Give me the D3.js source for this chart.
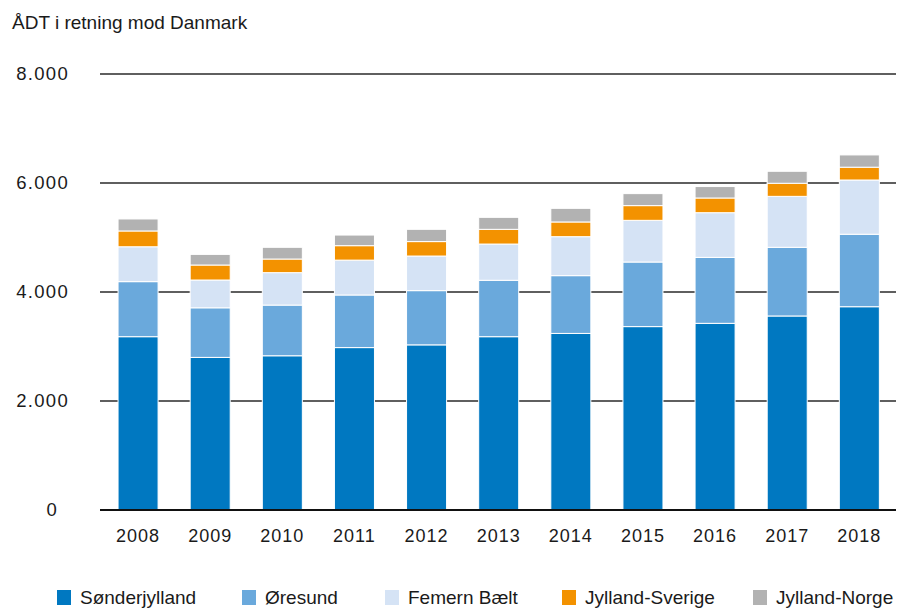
<!DOCTYPE html>
<html lang="da">
<head>
<meta charset="utf-8">
<title>ÅDT i retning mod Danmark</title>
<script src="https://cdn.jsdelivr.net/npm/d3@7/dist/d3.min.js"></script>
<style>
  html, body { margin: 0; padding: 0; background: #fff; }
  svg { display: block; font-family: "Liberation Sans", Arial, Helvetica, sans-serif; }
</style>
</head>
<body>
<svg id="chart" width="907" height="608"></svg>
<script>
// Years on the x axis
const years = ["2008","2009","2010","2011","2012","2013","2014","2015","2016","2017","2018"];

// Average daily traffic towards Denmark, per corridor
const sonderjylland  = [3180, 2800, 2830, 2980, 3030, 3180, 3240, 3365, 3425, 3560, 3730];
const oresund        = [1010,  910,  930,  965,  995, 1035, 1060, 1185, 1210, 1260, 1330];
const femernBaelt    = [ 640,  510,  595,  640,  635,  665,  715,  765,  820,  935,  995];
const jyllandSverige = [ 290,  275,  250,  265,  265,  270,  270,  270,  270,  240,  235];
const jyllandNorge   = [ 220,  195,  215,  195,  225,  220,  250,  220,  210,  220,  225];

const seriesNames = ["Sønderjylland", "Øresund", "Femern Bælt", "Jylland-Sverige", "Jylland-Norge"];
const yTicks = [0, 2000, 4000, 6000, 8000];

const colors = ["#0078c1", "#6aa9dc", "#d5e3f5", "#f39200", "#b2b2b2"];

const seriesValues = [sonderjylland, oresund, femernBaelt, jyllandSverige, jyllandNorge];
const rows = years.map((y, i) => {
  const r = { year: y };
  seriesNames.forEach((n, k) => { r[n] = seriesValues[k][i]; });
  return r;
});

const svg = d3.select("#chart");
const plot = { left: 100, right: 896, top: 74, bottom: 510 };

const x = d3.scaleBand()
  .domain(years)
  .range([102, 895.4])
  .paddingInner(0.445)
  .paddingOuter(0.2225);

const y = d3.scaleLinear()
  .domain([0, 8000])
  .range([plot.bottom, plot.top]);

const fmt = v => d3.format(",")(v).replace(/,/g, ".");

// Title
svg.append("text")
  .attr("x", 12)
  .attr("y", 29)
  .attr("font-size", 19)
  .attr("fill", "#1a1a1a")
  .text("ÅDT i retning mod Danmark");

// Horizontal gridlines (drawn underneath the bars)
svg.append("g")
  .selectAll("line")
  .data(yTicks.filter(t => t > 0))
  .join("line")
  .attr("x1", plot.left)
  .attr("x2", plot.right)
  .attr("y1", d => y(d))
  .attr("y2", d => y(d))
  .attr("stroke", "#2a2a2a")
  .attr("stroke-width", 1.5);

// Y axis labels
const yAxis = d3.axisLeft(y).tickValues(yTicks).tickFormat(fmt).tickSize(0).tickPadding(0);
const gy = svg.append("g")
  .attr("transform", "translate(69,0)")
  .call(yAxis);
gy.select(".domain").remove();
gy.selectAll("text")
  .attr("font-family", "'Liberation Sans', Arial, sans-serif")
  .attr("font-size", 18.5)
  .attr("letter-spacing", 1.3)
  .attr("fill", "#1a1a1a")
  .attr("dx", d => d === 0 ? -11 : 0);

// Stacked bars
const stack = d3.stack().keys(seriesNames);
const layers = stack(rows);

svg.append("g")
  .selectAll("g")
  .data(layers)
  .join("g")
  .attr("fill", (d, i) => colors[i])
  .selectAll("rect")
  .data(d => d)
  .join("rect")
  .attr("x", d => x(d.data.year))
  .attr("width", x.bandwidth())
  .attr("y", d => y(d[1]))
  .attr("height", d => y(d[0]) - y(d[1]))
  .attr("stroke", "#fff")
  .attr("stroke-width", 1);

// Zero baseline
svg.append("line")
  .attr("x1", plot.left)
  .attr("x2", plot.right)
  .attr("y1", y(0))
  .attr("y2", y(0))
  .attr("stroke", "#111")
  .attr("stroke-width", 2.2);

// X axis labels
const xAxis = d3.axisBottom(x).tickSize(0).tickPadding(0);
const gx = svg.append("g")
  .attr("transform", `translate(0,${y(0)})`)
  .call(xAxis);
gx.select(".domain").remove();
gx.selectAll("text")
  .attr("font-family", "'Liberation Sans', Arial, sans-serif")
  .attr("font-size", 18)
  .attr("letter-spacing", 1)
  .attr("fill", "#1a1a1a")
  .attr("dy", null)
  .attr("y", 31.5);

// Legend
const legendX = [57, 242, 385, 562, 753];
const legend = svg.append("g")
  .selectAll("g")
  .data(seriesNames)
  .join("g")
  .attr("transform", (d, i) => `translate(${legendX[i]},590)`);
legend.append("rect")
  .attr("width", 14)
  .attr("height", 15)
  .attr("fill", (d, i) => colors[i]);
legend.append("text")
  .attr("x", 23)
  .attr("y", 14.3)
  .attr("font-size", 19)
  .attr("fill", "#1a1a1a")
  .text(d => d);
</script>
</body>
</html>
